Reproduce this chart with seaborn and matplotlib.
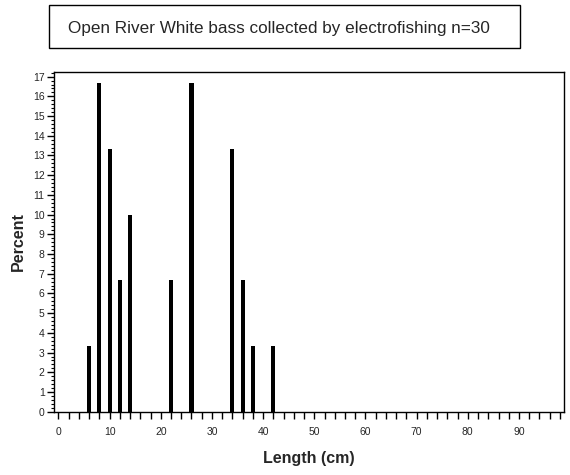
import matplotlib
matplotlib.use("Agg")
import matplotlib.pyplot as plt
import matplotlib.patches as mpatches
from matplotlib.ticker import MultipleLocator
import seaborn as sns

sns.set_theme(style="ticks")
plt.rcParams['font.family'] = ['Liberation Sans', 'DejaVu Sans']

# length classes (cm) and fish counts, n = 30
lengths = [6, 8, 10, 12, 14, 22, 26, 34, 36, 38, 42]
counts = [1, 5, 4, 2, 3, 2, 5, 4, 2, 1, 1]
title = "Open River White bass collected by electrofishing n=30"

fig = plt.figure(figsize=(5.7, 4.75), dpi=100)
ax = fig.add_axes([0.0953, 0.1333, 0.8942, 0.7157])

sns.histplot(x=lengths, weights=counts, stat="percent", discrete=True,
             shrink=0.8, color="black", edgecolor="black", linewidth=0,
             alpha=1, ax=ax)

ax.set_xlim(-0.8, 98.8)
ax.set_ylim(0, 17.25)
ax.xaxis.set_major_locator(MultipleLocator(10))
ax.xaxis.set_minor_locator(MultipleLocator(2))
ax.yaxis.set_major_locator(MultipleLocator(1))
ax.yaxis.set_minor_locator(MultipleLocator(0.2))
ax.tick_params(axis="x", which="both", length=5, width=1, labelsize=7.5, pad=6, color="black")
ax.tick_params(axis="y", which="major", length=5, width=1, labelsize=7.5, pad=2, color="black")
ax.tick_params(axis="y", which="minor", length=2.5, width=0.8, color="black")
for s in ax.spines.values():
    s.set_visible(True)
    s.set_color("black")
    s.set_linewidth(1)

ax.set_xlabel("Length (cm)", fontsize=11.5, fontweight="semibold", labelpad=10)
ax.set_ylabel("Percent", fontsize=11.5, fontweight="semibold", labelpad=5)

fig.patches.append(mpatches.Rectangle((49 / 570, 1 - 48 / 475), 471 / 570, 43 / 475,
                                      transform=fig.transFigure, fill=False,
                                      edgecolor="black", linewidth=1))
fig.text(279 / 570, 1 - 28 / 475, title, ha="center", va="center", fontsize=12.3)

fig.savefig("out.png", dpi=100, facecolor="white")
